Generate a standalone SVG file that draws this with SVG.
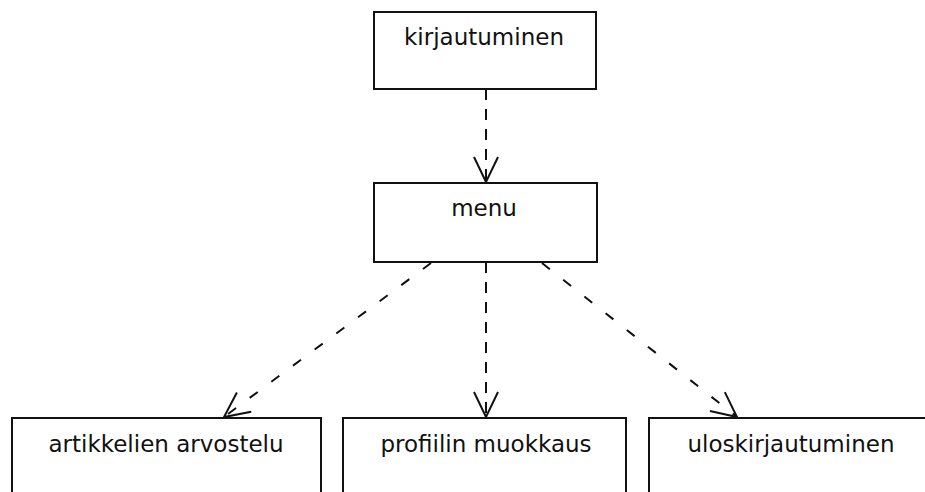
<svg xmlns="http://www.w3.org/2000/svg" width="925" height="492" viewBox="0 0 925 492">
<style>
.box{fill:#fff;stroke:#111;stroke-width:2}
.lbl{font-family:"DejaVu Sans",sans-serif;font-size:23px;fill:#111;text-anchor:middle}
.edge{fill:none;stroke:#111;stroke-width:2;marker-end:url(#open)}
.v{stroke-dasharray:11 9}
.d{stroke-dasharray:10 17}
</style>
<defs>
<marker id="open" markerUnits="userSpaceOnUse" markerWidth="30" markerHeight="30" viewBox="-28 -14 30 28" refX="0" refY="0" orient="auto" overflow="visible">
<path d="M-25,-12 L0,0 L-25,12" fill="none" stroke="#111" stroke-width="2"/>
</marker>
</defs>
<rect width="925" height="492" fill="#fff"/>
<g id="connectors">
<line class="edge v" x1="486" y1="89" x2="486" y2="182"/>
<line class="edge v" x1="486" y1="262" x2="486" y2="417"/>
<line class="edge d" x1="431" y1="263" x2="224" y2="417"/>
<line class="edge d" x1="542" y1="263" x2="737" y2="417"/>
</g>
<g id="kirjautuminen">
<rect class="box" x="374" y="12" width="222" height="77"/>
<text class="lbl" x="484" y="45">kirjautuminen</text>
</g>
<g id="menu">
<rect class="box" x="374" y="183" width="223" height="79"/>
<text class="lbl" x="484" y="216">menu</text>
</g>
<g id="artikkelien">
<rect class="box" x="12" y="418" width="309" height="90"/>
<text class="lbl" x="166" y="452">artikkelien arvostelu</text>
</g>
<g id="profiilin">
<rect class="box" x="343" y="418" width="283" height="90"/>
<text class="lbl" x="486" y="452">profiilin muokkaus</text>
</g>
<g id="uloskirjautuminen">
<rect class="box" x="649" y="418" width="290" height="90"/>
<text class="lbl" x="791" y="452">uloskirjautuminen</text>
</g>
</svg>
